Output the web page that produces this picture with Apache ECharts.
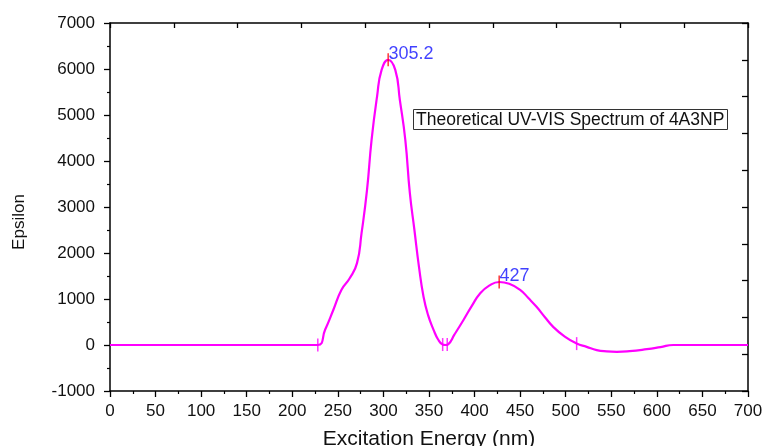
<!DOCTYPE html>
<html>
<head>
<meta charset="utf-8">
<script src="https://cdn.jsdelivr.net/npm/echarts@6/dist/echarts.min.js"></script>
<style>
  html, body { margin: 0; padding: 0; background: #fff; }
  #chart { width: 764px; height: 446px; }
</style>
</head>
<body>
<div id="chart"></div>
<script>
// wavelength (nm) and epsilon
const wavelength = [0, 100, 200, 228, 236, 245, 254, 263, 271, 276, 282, 287, 293, 298, 305.2,
  313, 318, 324, 329, 334, 339, 344, 349, 355, 360, 365, 368, 371, 378, 388, 397, 406, 416,
  427, 438, 450, 459, 468, 477, 486, 499, 512, 523, 534, 545, 556, 570, 589, 604, 618, 650, 700];
const epsilon = [0, 0, 0, 0, 330, 760, 1200, 1450, 1780, 2430, 3370, 4460, 5400, 5980, 6200,
  5980, 5330, 4460, 3300, 2500, 1700, 1050, 650, 330, 120, 10, 0, 15, 230, 550, 850, 1120, 1290,
  1370, 1330, 1200, 1020, 830, 610, 400, 180, 30, -40, -110, -140, -150, -135, -90, -45, 0, 0, 0];

// small tick marks on the curve
const markX = [228, 365, 370, 512];
const markY = [0, 10, 10, 30];
const peakX = [305.2, 427];
const peakY = [6200, 1370];

const xTicks = { min: 0, max: 700, step: 50 };
const yTicks = { min: -1000, max: 7000, step: 1000 };

const font = 'Liberation Sans, Arial, sans-serif';
const chart = echarts.init(document.getElementById('chart'));

const curve = wavelength.map((x, i) => [x, epsilon[i]]);
const marks = markX.map((x, i) => [x, markY[i]]);
const peaks = peakX.map((x, i) => [x, peakY[i]]);

const axisLine = { show: true, onZero: false, lineStyle: { color: '#000', width: 1.5 } };

chart.setOption({
  animation: false,
  title: {
    text: 'Theoretical UV-VIS Spectrum of 4A3NP',
    left: 413, top: 109,
    padding: [2, 3, 1, 3],
    borderColor: '#333', borderWidth: 1,
    textStyle: { fontFamily: font, fontSize: 17.5, fontWeight: 'normal', color: '#111' }
  },
  grid: { left: 110, right: 16, top: 23, bottom: 55, containLabel: false, outerBoundsMode: 'none' },
  xAxis: [{
    type: 'value', min: xTicks.min, max: xTicks.max, interval: xTicks.step,
    name: 'Excitation Energy (nm)', nameLocation: 'middle', nameGap: 38,
    nameTextStyle: { fontFamily: font, fontSize: 21, color: '#111' },
    axisLine: axisLine,
    axisTick: { length: 6, lineStyle: { color: '#000', width: 1.3 } },
    minorTick: { show: true, splitNumber: 2, length: 3, lineStyle: { color: '#000', width: 1.2 } },
    axisLabel: { fontFamily: font, fontSize: 17, color: '#111', margin: 12, formatter: v => String(v) },
    splitLine: { show: false }
  }, {
    type: 'value', position: 'top', min: 0, max: 10, interval: 1,
    axisLine: axisLine,
    axisTick: { inside: true, length: 5, lineStyle: { color: '#000', width: 1.3 } },
    axisLabel: { show: false },
    splitLine: { show: false }
  }],
  yAxis: [{
    type: 'value', min: yTicks.min, max: yTicks.max, interval: yTicks.step,
    name: 'Epsilon', nameLocation: 'middle', nameGap: 82, nameRotate: 90,
    nameTextStyle: { fontFamily: font, fontSize: 17, color: '#111', padding: [0, 0, 0, -30] },
    axisLine: axisLine,
    axisTick: { length: 6, lineStyle: { color: '#000', width: 1.3 } },
    minorTick: { show: true, splitNumber: 2, length: 3, lineStyle: { color: '#000', width: 1.2 } },
    axisLabel: { fontFamily: font, fontSize: 17, color: '#111', margin: 15, formatter: v => String(v) },
    splitLine: { show: false }
  }, {
    type: 'value', position: 'right', min: 0, max: 10, interval: 1,
    axisLine: axisLine,
    axisTick: { show: true, inside: true, length: 6, lineStyle: { color: '#000', width: 1.3 } },
    axisLabel: { show: false },
    splitLine: { show: false }
  }],
  series: [{
    type: 'line',
    data: curve,
    smooth: 0.5,
    symbol: 'none',
    lineStyle: { color: '#ff00ff', width: 2.2 },
    z: 3
  }, {
    type: 'scatter',
    data: marks,
    symbol: 'rect',
    symbolSize: [1.5, 13],
    itemStyle: { color: '#ff00ff' },
    z: 4
  }, {
    type: 'scatter',
    data: peaks,
    symbol: 'rect',
    symbolSize: [1.5, 13],
    itemStyle: { color: '#ff0000' },
    label: {
      show: true,
      position: [1, -8],
      formatter: p => String(p.value[0]),
      fontFamily: font, fontSize: 18, color: '#1010ff'
    },
    z: 5
  }]
});
</script>
</body>
</html>
